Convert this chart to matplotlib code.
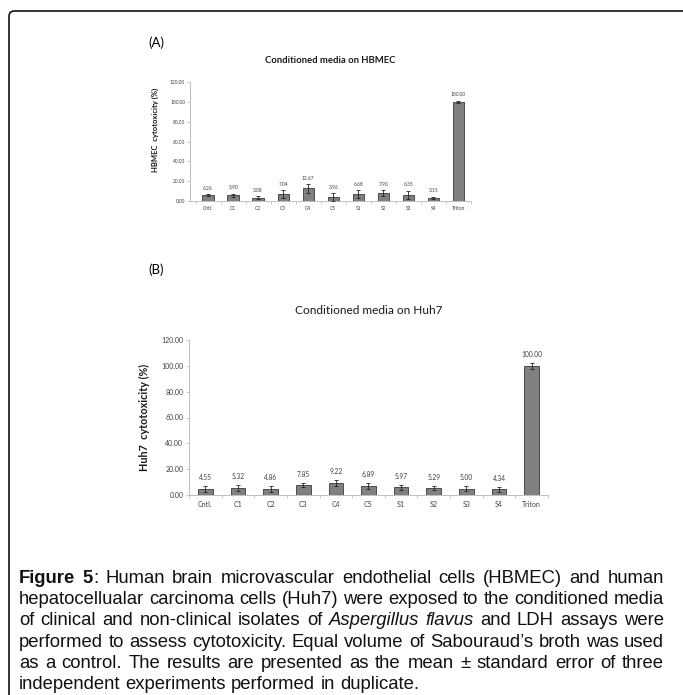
import numpy as np
import matplotlib
matplotlib.use('Agg')
from matplotlib import pyplot as plt
from matplotlib.patches import FancyBboxPatch

W, H = 683, 695

categories = ['Cntl.', 'C1', 'C2', 'C3', 'C4', 'C5', 'S1', 'S2', 'S3', 'S4', 'Triton']

hbmec_vals = [6.26, 5.90, 3.08, 7.04, 12.67, 3.96, 6.68, 7.90, 6.35, 3.15, 100.00]
hbmec_err = [0.8, 1.5, 1.5, 4.0, 4.5, 4.0, 4.0, 3.0, 4.0, 1.0, 1.0]

huh7_vals = [4.55, 5.32, 4.86, 7.85, 9.22, 6.89, 5.97, 5.29, 5.00, 4.34, 100.00]
huh7_err = [2.5, 2.3, 2.3, 1.8, 2.3, 2.5, 2.0, 1.8, 2.0, 1.8, 2.5]

y_ticks = [0, 20, 40, 60, 80, 100, 120]

caption_lines = [
    [[('Figure', 'bold', 'normal')], [('5', 'bold', 'normal'), (':', 'normal', 'normal')],
     'Human', 'brain', 'microvascular', 'endothelial', 'cells', '(HBMEC)', 'and', 'human'],
    'hepatocellualar carcinoma cells (Huh7) were exposed to the conditioned media'.split(),
    ['of', 'clinical', 'and', 'non-clinical', 'isolates', 'of',
     [('Aspergillus', 'normal', 'italic')], [('flavus', 'normal', 'italic')],
     'and', 'LDH', 'assays', 'were'],
    'performed to assess cytotoxicity. Equal volume of Sabouraud\u2019s broth was used'.split(),
    'as a control. The results are presented as the mean \u00b1 standard error of three'.split(),
    'independent experiments performed in duplicate.'.split(),
]

CHART_FONT = ['Lato', 'DejaVu Sans']
CAP_FONT = ['Liberation Sans', 'DejaVu Sans']


def px_box(left, top, right, bottom):
    return [left / W, 1 - bottom / H, (right - left) / W, (bottom - top) / H]


def bar_chart(fig, box, vals, errs, title, ylabel, xlim, fs):
    ax = fig.add_axes(box)
    x = np.arange(len(categories))
    ax.bar(x, vals, width=0.45, color='#808080', edgecolor='#3a3a3a', linewidth=0.6, zorder=2)
    ax.errorbar(x, vals, yerr=errs, fmt='none', ecolor='#222222', elinewidth=0.6,
                capsize=fs['cap'], capthick=0.6, zorder=3)
    for xi, v, e in zip(x, vals, errs):
        ax.annotate('%.2f' % v, (xi, v + e), xytext=(0, fs['lab_off']), textcoords='offset points',
                    ha='center', va='bottom', fontsize=fs['lab'], color='#404040', family=CHART_FONT)
    ax.set_xlim(*xlim)
    ax.set_ylim(0, 120)
    ax.set_yticks(y_ticks)
    ax.set_yticklabels(['%.2f' % t for t in y_ticks], fontsize=fs['tick'], color='#404040', family=CHART_FONT)
    ax.set_xticks(x)
    ax.set_xticklabels(categories, fontsize=fs['tick'], color='#404040', family=CHART_FONT)
    ax.set_xticks(np.arange(len(categories) + 1) - 0.5, minor=True)
    ax.tick_params(axis='x', which='major', length=0, pad=fs['xpad'])
    ax.tick_params(axis='x', which='minor', length=2, color='#bfbfbf', width=0.6)
    ax.tick_params(axis='y', length=2, color='#bfbfbf', width=0.6, pad=fs['ypad'])
    for s in ['top', 'right']:
        ax.spines[s].set_visible(False)
    for s in ['left', 'bottom']:
        ax.spines[s].set_color('#bfbfbf')
        ax.spines[s].set_linewidth(0.7)
    ax.set_title(title, fontsize=fs['title'], fontweight=fs['title_w'], family=CHART_FONT,
                 color='#1a1a1a', pad=fs['title_pad'])
    ax.set_ylabel(ylabel, fontsize=fs['ylab'], fontweight='bold', family=CHART_FONT, color='#1a1a1a')
    ax.yaxis.set_label_coords(*fs['ylab_xy'])
    return ax


def draw_caption(fig, lines, x0, x1, base0, line_h, size):
    renderer = fig.canvas.get_renderer()
    for i, words in enumerate(lines):
        y = 1 - (base0 + i * line_h) / H
        placed = []
        for w in words:
            segs = [(w, 'normal', 'normal')] if isinstance(w, str) else w
            items = []
            width = 0
            for s, wt, st in segs:
                t = fig.text(0, y, s, fontsize=size, fontweight=wt, fontstyle=st,
                             family=CAP_FONT, va='baseline', ha='left', color='#111111')
                wpx = t.get_window_extent(renderer).width
                items.append((t, width))
                width += wpx
            placed.append((items, width))
        total = sum(p[1] for p in placed)
        if i == len(lines) - 1:
            # last line stays left aligned with plain spaces
            sp = fig.text(0, 0, 'a b', fontsize=size, family=CAP_FONT)
            sa = fig.text(0, 0, 'ab', fontsize=size, family=CAP_FONT)
            gap = sp.get_window_extent(renderer).width - sa.get_window_extent(renderer).width
            sp.remove()
            sa.remove()
        else:
            gap = ((x1 - x0) - total) / (len(placed) - 1)
        cx = x0
        for items, width in placed:
            for t, off in items:
                t.set_x((cx + off) / W)
            cx += width + gap


def main():
    fig = plt.figure(figsize=(W / 100, H / 100), dpi=100)

    border = FancyBboxPatch((9 / W, -0.1), 1.2, 1 - 11 / H + 0.1,
                            boxstyle='round,pad=0,rounding_size=0.008', transform=fig.transFigure,
                            facecolor='none', edgecolor='#111111', linewidth=1.2)
    fig.patches.append(border)

    fs_a = dict(cap=1.2, lab=3.5, lab_off=2.5, tick=3.5, xpad=3.5, ypad=1.5, title=6.8, title_w='bold',
                title_pad=14, ylab=5.5, ylab_xy=(-0.11, 0.6))
    bar_chart(fig, px_box(190, 82, 471, 201), hbmec_vals, hbmec_err,
              'Conditioned media on HBMEC', 'HBMEC  cytotoxicity (%)', (-0.72, 10.5), fs_a)

    fs_b = dict(cap=1.6, lab=4.8, lab_off=3.5, tick=5, xpad=4.5, ypad=2, title=8.6, title_w='normal',
                title_pad=19, ylab=7.8, ylab_xy=(-0.11, 0.5))
    bar_chart(fig, px_box(189, 340, 548, 495), huh7_vals, huh7_err,
              'Conditioned media on Huh7', 'Huh7  cytotoxicity (%)', (-0.5, 10.5), fs_b)

    fig.text(148 / W, 1 - 43 / H, '(A)', fontsize=9.5, family=CHART_FONT, va='center', ha='left')
    fig.text(148 / W, 1 - 270 / H, '(B)', fontsize=9.5, family=CHART_FONT, va='center', ha='left')

    draw_caption(fig, caption_lines, 19, 664, 583, 21.2, 13.3)

    fig.savefig('out.png', dpi=100)
    plt.close()


if __name__ == '__main__':
    main()
